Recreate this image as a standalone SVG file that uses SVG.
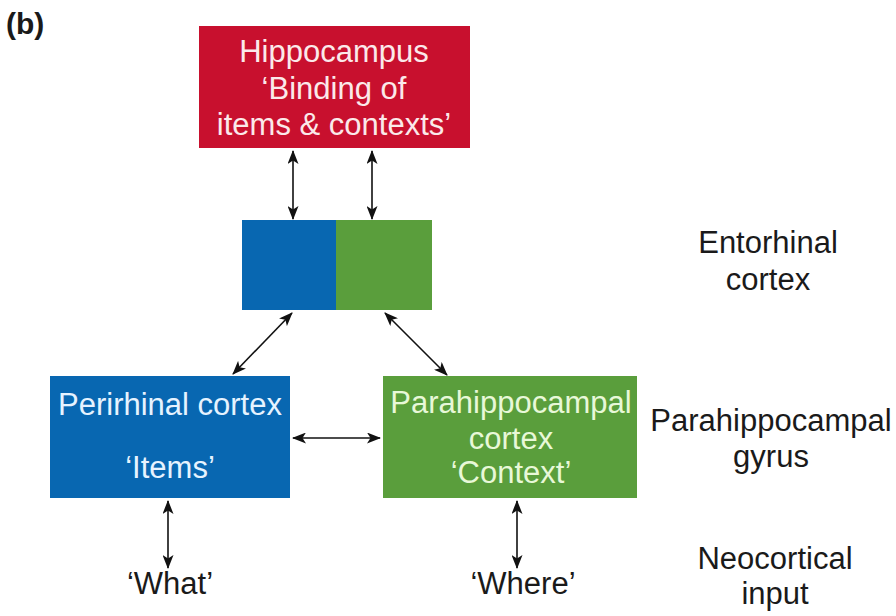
<svg xmlns="http://www.w3.org/2000/svg" width="896" height="616" viewBox="0 0 896 616">
<style>
text{font-family:"Liberation Sans",Arial,sans-serif;font-size:31px;text-anchor:middle}
.lab{fill:#1a1a1a}
.wr{fill:#fbe9ea}
.wb{fill:#e6f3ff}
.wg{fill:#e8f8d8}
.c{stroke:#111;stroke-width:1.6;fill:none;marker-start:url(#ah);marker-end:url(#ah)}
</style>
<defs>
<marker id="ah" viewBox="0 0 14 11" refX="13" refY="5.5" markerWidth="14" markerHeight="11" markerUnits="userSpaceOnUse" orient="auto-start-reverse">
<path d="M0,0 L14,5.5 L0,11 L3.5,5.5 Z" fill="#111"/>
</marker>
</defs>
<rect width="896" height="616" fill="#fff"/>
<text x="6" y="34" style="font-size:30px;font-weight:bold;text-anchor:start" class="lab">(b)</text>
<g id="hippocampus">
<rect x="199" y="26" width="271" height="122" fill="#c8102e"/>
<text x="334" y="62" class="wr">Hippocampus</text>
<text x="334" y="99" class="wr">‘Binding of</text>
<text x="334" y="135" class="wr">items &amp; contexts’</text>
</g>
<g id="entorhinal">
<rect x="242" y="220" width="94" height="90" fill="#0867b1"/>
<rect x="336" y="220" width="96" height="90" fill="#5a9e3c"/>
</g>
<g id="perirhinal">
<rect x="50" y="376" width="240" height="122" fill="#0867b1"/>
<text x="170" y="415" class="wb">Perirhinal cortex</text>
<text x="170" y="478" class="wb">‘Items’</text>
</g>
<g id="parahippocampal">
<rect x="383" y="376" width="254" height="122" fill="#5a9e3c"/>
<text x="511" y="413" class="wg">Parahippocampal</text>
<text x="511" y="449" class="wg">cortex</text>
<text x="511" y="483" class="wg">‘Context’</text>
</g>
<g id="what"><text x="170" y="594" class="lab">‘What’</text></g>
<g id="where"><text x="523" y="594" class="lab">‘Where’</text></g>
<g id="labels">
<text x="768" y="253" class="lab">Entorhinal</text>
<text x="768" y="290" class="lab">cortex</text>
<text x="771" y="431" class="lab">Parahippocampal</text>
<text x="771" y="467" class="lab">gyrus</text>
<text x="775" y="569" class="lab">Neocortical</text>
<text x="775" y="604" class="lab">input</text>
</g>
<g id="connectors">
<line class="c" x1="293" y1="151" x2="293" y2="219"/>
<line class="c" x1="372" y1="151" x2="372" y2="219"/>
<line class="c" x1="292" y1="313" x2="233" y2="374"/>
<line class="c" x1="385" y1="313" x2="447" y2="375"/>
<line class="c" x1="293" y1="438" x2="380" y2="438"/>
<line class="c" x1="168" y1="501" x2="168" y2="568"/>
<line class="c" x1="517" y1="501" x2="517" y2="568"/>
</g>
</svg>
